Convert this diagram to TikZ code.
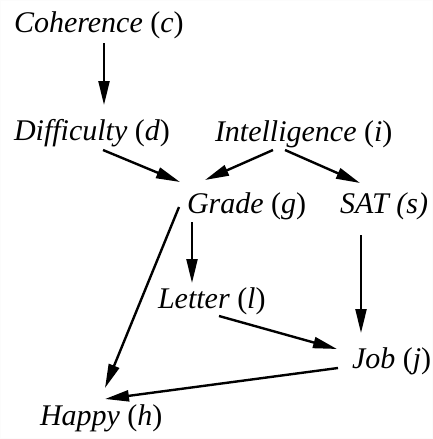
\documentclass[tikz,border=0pt]{standalone}
\usepackage{fontspec}
\setmainfont{Liberation Serif}
\usetikzlibrary{arrows.meta,calc}

\begin{document}
\begin{tikzpicture}[
    x=1pt, y=-1pt,
    var/.style={anchor=base west, inner sep=0pt, outer sep=0pt, font=\fontsize{30}{35}\selectfont},
    arrow/.style={-{Triangle[length=24pt,width=11pt]}, line width=2.4pt}
]
    \fill [white] (0,0) rectangle (433,439);
    \draw [black!1] (0.5,0.5) rectangle (432.5,438.5);

    % Variables
    \node [var] (coh) at (14,32) {\textit{Coherence} (\textit{c})};
    \node [var] (diff) at (14,140) {\textit{Difficulty} (\textit{d})};
    \node [var] (intel) at (215,141) {\textit{Intelligence} (\textit{i})};
    \node [var] (grade) at (187,213) {\textit{Grade} (\textit{g})};
    \node [var] (sat) at (340,213) {\textit{SAT (s)}};
    \node [var] (letter) at (158,308) {\textit{Letter} (\textit{l})};
    \node [var] (job) at (352,368) {\textit{Job} (\textit{j})};
    \node [var] (happy) at (40,425) {\textit{Happy} (\textit{h})};

    % Connections
    \draw [arrow] ([shift={(90,11)}]coh.base west) -- ([shift={(90,-35)}]diff.base west);
    \draw [arrow] ([shift={(89,10)}]diff.base west) -- ([shift={(-7,-31)}]grade.base west);
    \draw [arrow] ([shift={(58,9)}]intel.base west) -- ([shift={(18,-33)}]grade.base west);
    \draw [arrow] ([shift={(70,9)}]intel.base west) -- ([shift={(20,-30)}]sat.base west);
    \draw [arrow] ([shift={(21,22)}]sat.base west) -- ([shift={(9,-35)}]job.base west);
    \draw [arrow] ([shift={(5,9)}]grade.base west) -- ([shift={(34,-25)}]letter.base west);
    \draw [arrow] ([shift={(61,8)}]letter.base west) -- ([shift={(-15,-19)}]job.base west);
    \draw [arrow] ([shift={(-14,0)}]job.base west) -- ([shift={(65,-26)}]happy.base west);
    \draw [arrow] ([shift={(-8,-6)}]grade.base west) -- ([shift={(65,-37)}]happy.base west);

\end{tikzpicture}
\end{document}
